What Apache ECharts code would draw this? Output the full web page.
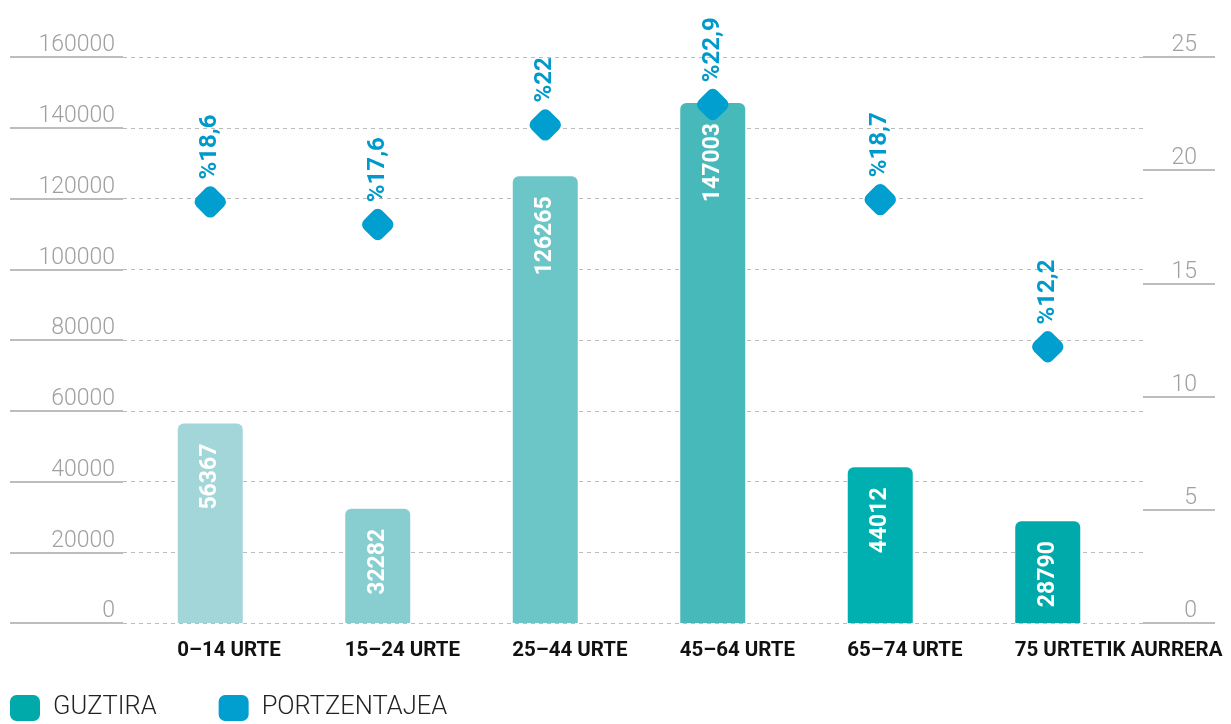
<!DOCTYPE html>
<html>
<head>
<meta charset="utf-8">
<script src="https://cdn.jsdelivr.net/npm/echarts@6/dist/echarts.min.js"></script>
<style>html,body{margin:0;padding:0;background:#fff}#c{width:1231px;height:724px}</style>
</head>
<body>
<div id="c"></div>
<script>
const categories = ['0–14 URTE', '15–24 URTE', '25–44 URTE', '45–64 URTE', '65–74 URTE', '75 URTETIK AURRERA'];
const totals = [56367, 32282, 126265, 147003, 44012, 28790];
const percents = [18.6, 17.6, 22, 22.9, 18.7, 12.2];
const barColors = ['#A2D6D8', '#88CDD0', '#6CC5C6', '#48B9BA', '#00B0B0', '#00A9AA'];
const seriesNames = ['GUZTIRA', 'PORTZENTAJEA'];

const chart = echarts.init(document.getElementById('c'));
const gridTop = 57, gridBottom = 101;
chart.setOption({
  animation: false,
  grid: [
    { left: 126.5, right: 99.5, top: gridTop, bottom: gridBottom },
    { left: 123, right: 88, top: gridTop, bottom: gridBottom }
  ],
  legend: {
    data: seriesNames,
    left: 10, top: 695, padding: 0,
    itemWidth: 30, itemHeight: 26, itemGap: 62,
    icon: 'roundRect',
    textStyle: { fontFamily: 'Roboto', fontWeight: 300, fontSize: 25.5, color: '#222', padding: [0, 0, 0, 8] }
  },
  xAxis: [
    {
      type: 'category', gridIndex: 0, data: categories,
      axisLine: { show: false }, axisTick: { show: false },
      axisLabel: { interval: 0, align: 'left', padding: [0, 0, 0, -33], margin: 17,
        fontFamily: 'Roboto', fontWeight: 'bold', fontSize: 20.5, color: '#111' }
    },
    { type: 'category', gridIndex: 1, data: categories, show: false }
  ],
  yAxis: [
    { type: 'value', gridIndex: 0, min: 0, max: 160000, interval: 20000, show: false },
    { type: 'value', gridIndex: 0, min: 0, max: 25, interval: 5, show: false, position: 'right' },
    {
      type: 'value', gridIndex: 1, min: 0, max: 160000, interval: 20000, position: 'left',
      axisLine: { show: false },
      axisTick: { show: true, length: 113, lineStyle: { color: '#A8A8A8', width: 1.5 } },
      axisLabel: { margin: 8, verticalAlign: 'bottom', padding: [0, 0, 0, 0], formatter: v => String(v),
        fontFamily: 'Roboto', fontWeight: 300, fontSize: 23, color: '#A0A0A0' },
      splitLine: { show: true, lineStyle: { color: '#BBBBBB', type: [4, 4], width: 1 } }
    },
    {
      type: 'value', gridIndex: 1, min: 0, max: 25, interval: 5, position: 'right',
      axisLine: { show: false },
      axisTick: { show: true, length: 72, lineStyle: { color: '#A8A8A8', width: 1.5 } },
      axisLabel: { margin: 54, align: 'right', verticalAlign: 'bottom', padding: [0, 0, 0, 0],
        fontFamily: 'Roboto', fontWeight: 300, fontSize: 23, color: '#A0A0A0' },
      splitLine: { show: false }
    }
  ],
  series: [
    {
      name: seriesNames[0], type: 'bar', xAxisIndex: 0, yAxisIndex: 0,
      barWidth: 65,
      itemStyle: { color: '#00A9AA', borderRadius: [6, 6, 0, 0] },
      data: totals.map((v, i) => ({ value: v, itemStyle: { color: barColors[i] } })),
      label: { show: true, position: 'insideTop', distance: 20, rotate: 90, align: 'right', verticalAlign: 'middle',
        fontFamily: 'Roboto', fontWeight: 'bold', fontSize: 23, color: '#fff' },
      z: 2
    },
    {
      name: seriesNames[1], type: 'scatter', xAxisIndex: 0, yAxisIndex: 1,
      symbol: 'roundRect', symbolSize: 26, symbolRotate: 45,
      itemStyle: { color: '#009FD0', opacity: 1 },
      data: percents,
      label: { show: true, position: 'top', distance: 4, rotate: 90, align: 'left', verticalAlign: 'middle',
        formatter: p => '%' + String(p.value).replace('.', ','),
        fontFamily: 'Roboto', fontWeight: 'bold', fontSize: 24, color: '#0099CC' },
      emphasis: { disabled: true },
      z: 3
    }
  ]
});
</script>
</body>
</html>
